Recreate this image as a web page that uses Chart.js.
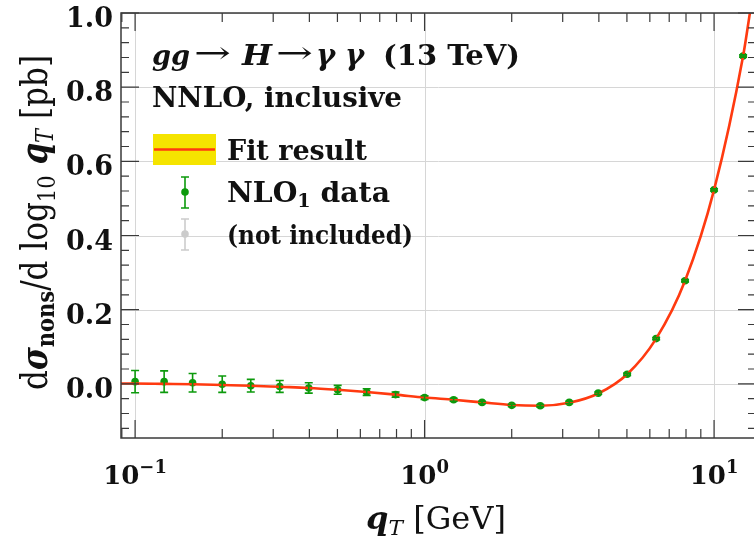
<!DOCTYPE html>
<html>
<head>
<meta charset="utf-8">
<script src="https://cdn.jsdelivr.net/npm/chart.js@4"></script>
<style>
  html, body { margin: 0; padding: 0; background: #fff; overflow: hidden; }
  #wrap { width: 760px; height: 545px; }
</style>
</head>
<body>
<div id="wrap"><canvas id="nonsChart" width="760" height="545"></canvas></div>
<script>
// NLO_1 data points (qT in GeV, d sigma_nons / d log10 qT in pb)
var qT = [0.1, 0.126, 0.158, 0.2, 0.251, 0.316, 0.398, 0.501, 0.631, 0.794,
          1.0, 1.26, 1.58, 2.0, 2.51, 3.16, 3.98, 5.01, 6.31, 7.94, 10.0, 12.6];
var nlo = [0.006, 0.006, 0.003, -0.001, -0.005, -0.007, -0.011, -0.016, -0.022, -0.029,
           -0.037, -0.043, -0.050, -0.058, -0.059, -0.050, -0.025, 0.026, 0.122, 0.278, 0.523, 0.884];
var nloErr = [0.030, 0.029, 0.025, 0.022, 0.017, 0.016, 0.014, 0.012, 0.009, 0.007,
              0.005, 0.004, 0.003, 0.003, 0.003, 0.003, 0.003, 0.003, 0.003, 0.003, 0.003, 0.003];

// fit curve
var fitQ = [0.0894, 0.1, 0.126, 0.158, 0.2, 0.251, 0.316, 0.398, 0.501, 0.631, 0.794,
            1.0, 1.26, 1.58, 2.0, 2.51, 3.16, 3.98, 5.01, 6.31, 7.94, 10.0, 12.6, 13.3];
var fitVal = [0.001, 0.001, 0.0, -0.001, -0.003, -0.005, -0.008, -0.011, -0.016, -0.022, -0.029,
              -0.037, -0.043, -0.050, -0.057, -0.059, -0.051, -0.026, 0.026, 0.122, 0.278, 0.523, 0.884, 1.0];

// axis ticks
var yTicks = [0.0, 0.2, 0.4, 0.6, 0.8, 1.0];
var yTickLabels = ['0.0', '0.2', '0.4', '0.6', '0.8', '1.0'];
var yMinor = [-0.12, -0.08, -0.04, 0.04, 0.08, 0.12, 0.16, 0.24, 0.28, 0.32, 0.36, 0.44, 0.48,
              0.52, 0.56, 0.64, 0.68, 0.72, 0.76, 0.84, 0.88, 0.92, 0.96];
var xTicks = [0.1, 1, 10];
var xTickExp = ['\u22121', '0', '1'];
var xMinor = [0.09, 0.2, 0.3, 0.4, 0.5, 0.6, 0.7, 0.8, 0.9, 2, 3, 4, 5, 6, 7, 8, 9];

var SERIF = "'DejaVu Serif', serif";
var RED = '#ff3a10';
var GREEN = '#0c9a0c';
var FRAME = '#3a3a3a';

// draw a run of [text, font, dy] pieces starting at x, returns end x
function drawRuns(ctx, runs, x, y) {
    runs.forEach(function (r) {
        ctx.font = r[1];
        ctx.fillText(r[0], x, y + (r[2] || 0));
        x += ctx.measureText(r[0]).width;
    });
    return x;
}
function runsWidth(ctx, runs) {
    var w = 0;
    runs.forEach(function (r) { ctx.font = r[1]; w += ctx.measureText(r[0]).width; });
    return w;
}
// same, stretched/squeezed horizontally to a given width
function drawFit(ctx, runs, x, y, w) {
    var nat = runsWidth(ctx, runs);
    ctx.save();
    ctx.translate(x, y);
    ctx.scale(w / nat, 1);
    drawRuns(ctx, runs, 0, 0);
    ctx.restore();
}

function errorBar(ctx, x, y1, y2, color) {
    ctx.strokeStyle = color;
    ctx.lineWidth = 1.6;
    ctx.beginPath();
    ctx.moveTo(x, y1); ctx.lineTo(x, y2);
    ctx.moveTo(x - 4, y1); ctx.lineTo(x + 4, y1);
    ctx.moveTo(x - 4, y2); ctx.lineTo(x + 4, y2);
    ctx.stroke();
}

var framePlugin = {
    id: 'frame',
    beforeDatasetsDraw: function (chart) {
        var ctx = chart.ctx, a = chart.chartArea;
        var xs = chart.scales.x, ys = chart.scales.y;
        ctx.save();
        ctx.strokeStyle = '#d6d6d6';
        ctx.lineWidth = 1;
        yTicks.forEach(function (v) {
            var py = Math.round(ys.getPixelForValue(v)) + 0.5;
            ctx.beginPath(); ctx.moveTo(a.left, py); ctx.lineTo(a.right, py); ctx.stroke();
        });
        xTicks.forEach(function (v) {
            var px = Math.round(xs.getPixelForValue(v)) + 0.5;
            ctx.beginPath(); ctx.moveTo(px, a.top); ctx.lineTo(px, a.bottom); ctx.stroke();
        });
        ctx.restore();
    },
    afterDatasetDraw: function (chart, args) {
        if (args.index !== 0) return;
        var ctx = chart.ctx;
        var xs = chart.scales.x, ys = chart.scales.y;
        ctx.save();
        qT.forEach(function (q, i) {
            var px = xs.getPixelForValue(q);
            errorBar(ctx, px, ys.getPixelForValue(nlo[i] + nloErr[i]), ys.getPixelForValue(nlo[i] - nloErr[i]), GREEN);
        });
        ctx.restore();
    },
    afterDraw: function (chart) {
        var ctx = chart.ctx, a = chart.chartArea;
        var xs = chart.scales.x, ys = chart.scales.y;
        ctx.save();
        // frame
        ctx.strokeStyle = FRAME;
        ctx.lineWidth = 1.5;
        ctx.strokeRect(a.left, a.top, a.right - a.left, a.bottom - a.top);
        // ticks, pointing inwards on all four sides
        ctx.lineWidth = 1.2;
        ctx.beginPath();
        yTicks.concat(yMinor).forEach(function (v) {
            var len = yTicks.indexOf(v) >= 0 ? 18 : 8;
            var py = ys.getPixelForValue(v);
            ctx.moveTo(a.left, py); ctx.lineTo(a.left + len, py);
            ctx.moveTo(a.right, py); ctx.lineTo(a.right - len, py);
        });
        xTicks.concat(xMinor).forEach(function (v) {
            var len = xTicks.indexOf(v) >= 0 ? 18 : 9;
            var px = xs.getPixelForValue(v);
            ctx.moveTo(px, a.bottom); ctx.lineTo(px, a.bottom - len);
            ctx.moveTo(px, a.top); ctx.lineTo(px, a.top + len);
        });
        ctx.stroke();

        ctx.fillStyle = '#111';
        ctx.textBaseline = 'alphabetic';
        // y tick labels
        ctx.font = 'bold 27px ' + SERIF;
        ctx.textAlign = 'right';
        yTicks.forEach(function (v, i) {
            ctx.fillText(yTickLabels[i], a.left - 8, ys.getPixelForValue(v) + 14);
        });
        // x tick labels 10^n
        ctx.textAlign = 'left';
        xTicks.forEach(function (v, i) {
            var runs = [['10', 'bold 26px ' + SERIF, 0], [xTickExp[i], 'bold 18px ' + SERIF, -11]];
            var w = runsWidth(ctx, runs);
            drawRuns(ctx, runs, xs.getPixelForValue(v) - w / 2, 484);
        });
        // x axis title
        var xt = [['q', 'bold italic 31px ' + SERIF, 0], ['T', 'italic 21px ' + SERIF, 6], [' [GeV]', '31px ' + SERIF, 0]];
        drawFit(ctx, xt, 366, 529, 140);
        // y axis title, rotated
        var yt = [['d', '37px ' + SERIF, 0], ['\u03c3', 'bold italic 37px ' + SERIF, 0], ['nons', 'bold 25px ' + SERIF, 7],
                  ['/d log', '37px ' + SERIF, 0], ['10', '25px ' + SERIF, 8], [' q', 'bold italic 37px ' + SERIF, 0],
                  ['T', 'italic 25px ' + SERIF, 6], [' [pb]', '37px ' + SERIF, 0]];
        ctx.save();
        ctx.translate(47, 390);
        ctx.rotate(-Math.PI / 2);
        drawFit(ctx, yt, 0, 0, 335);
        ctx.restore();

        // in-plot labels
        var tb = 'bold 28px ' + SERIF, ti = 'bold italic 28px ' + SERIF;
        drawFit(ctx, [['gg', ti]], 152, 65, 38);
        drawFit(ctx, [['\u2192', '30px ' + SERIF]], 194, 63, 37);
        drawFit(ctx, [['H', ti]], 242, 65, 30);
        drawFit(ctx, [['\u2192', '30px ' + SERIF]], 276, 63, 37);
        drawRuns(ctx, [['\u03b3', 'bold italic 29px ' + SERIF]], 316, 65);
        drawRuns(ctx, [['\u03b3', 'bold italic 29px ' + SERIF]], 345, 65);
        drawFit(ctx, [['(13 TeV)', tb]], 383, 65, 137);
        drawFit(ctx, [['NNLO, inclusive', tb]], 152, 107, 250);

        // legend
        ctx.fillStyle = '#f5e400';
        ctx.fillRect(153, 134, 63, 31);
        ctx.strokeStyle = RED;
        ctx.lineWidth = 2.5;
        ctx.beginPath(); ctx.moveTo(154, 149.5); ctx.lineTo(215, 149.5); ctx.stroke();
        errorBar(ctx, 185, 177, 208, GREEN);
        ctx.fillStyle = GREEN;
        ctx.beginPath(); ctx.arc(185, 192, 3.8, 0, Math.PI * 2); ctx.fill();
        errorBar(ctx, 185, 219, 250, '#cccccc');
        ctx.fillStyle = '#cccccc';
        ctx.beginPath(); ctx.arc(185, 234, 3.8, 0, Math.PI * 2); ctx.fill();

        ctx.fillStyle = '#111';
        drawFit(ctx, [['Fit result', tb]], 227, 160, 140);
        drawFit(ctx, [['NLO', tb], ['1', 'bold 19px ' + SERIF, 5], [' data', tb]], 227, 202, 163);
        drawFit(ctx, [['(not included)', 'bold 26px ' + SERIF]], 227, 244, 186);
        ctx.restore();
    }
};

var ctx = document.getElementById('nonsChart').getContext('2d');
var nonsChart = new Chart(ctx, {
    type: 'scatter',
    data: {
        datasets: [{
            label: 'Fit result',
            data: fitQ.map(function (q, i) { return { x: q, y: fitVal[i] }; }),
            showLine: true,
            borderColor: RED,
            borderWidth: 2.6,
            pointRadius: 0,
            cubicInterpolationMode: 'monotone'
        }, {
            label: 'NLO1 data',
            data: qT.map(function (q, i) { return { x: q, y: nlo[i] }; }),
            showLine: false,
            pointRadius: 3.8,
            pointBackgroundColor: GREEN,
            pointBorderWidth: 0
        }]
    },
    options: {
        responsive: false,
        animation: false,
        layout: { padding: { left: 121, top: 13, right: 4, bottom: 107 } },
        scales: {
            x: { type: 'logarithmic', min: 0.0894, max: 13.96, display: false },
            y: { type: 'linear', min: -0.146, max: 1.0, display: false }
        },
        plugins: {
            legend: { display: false },
            tooltip: { enabled: false }
        }
    },
    plugins: [framePlugin]
});
</script>
</body>
</html>
